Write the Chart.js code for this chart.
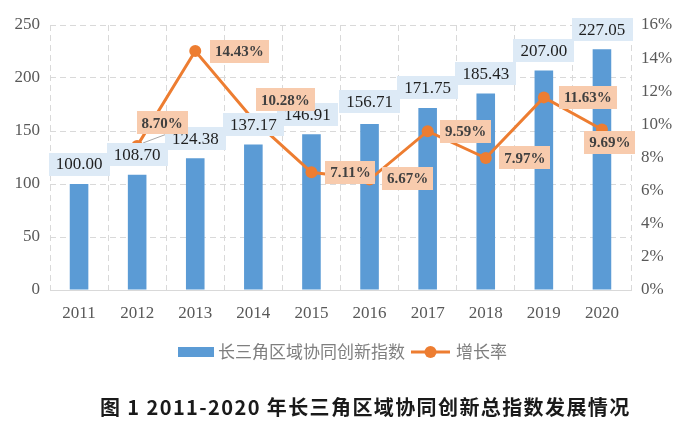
<!DOCTYPE html>
<html><head><meta charset="utf-8">
<script src="https://cdn.jsdelivr.net/npm/chart.js@4.4.0/dist/chart.umd.min.js"></script>
<style>
html,body{margin:0;padding:0;background:#fff;}
#wrap{position:relative;width:700px;height:437px;overflow:hidden;}
#c{position:absolute;left:0;top:0;}
#title{position:absolute;left:100px;top:394px;font-family:"Noto Sans CJK SC";font-weight:bold;font-size:20px;letter-spacing:1.4px;color:#1a1a1a;white-space:pre;line-height:26px;}
</style></head><body>
<div id="wrap"><canvas id="c" width="700" height="437" style="width:700px;height:437px"></canvas><div id="title"></div></div>
<script>
// ---- data ----
const years = ['2011','2012','2013','2014','2015','2016','2017','2018','2019','2020'];
const indexValues = [100.00,108.70,124.38,137.17,146.91,156.71,171.75,185.43,207.00,227.05];
const growthRates = [null,8.70,14.43,10.28,7.11,6.67,9.59,7.97,11.63,9.69];
const leftTicks = [0,50,100,150,200,250];
const rightTicks = [0,2,4,6,8,10,12,14,16];
const seriesNames = ['长三角区域协同创新指数','增长率'];
const chartTitle = '图 1 2011-2020 年长三角区域协同创新总指数发展情况';

// ---- label layout (pixel nudges, not data) ----
const barLabelNudge = [[0,0],[0,0],[0,0],[0,0],[-4,0],[0,-2],[0,0],[0,0],[0,0],[0,0]];
const rateLabelNudge = [null,[25,-23],[44,0],[32,-20],[39,0],[38,-1],[38,0],[39,0],[44,0],[8,13]];

document.getElementById('title').textContent = chartTitle;

const BAR = '#5B9BD5', LINE = '#ED7D31';
const SERIF = '"Liberation Serif", "Times New Roman", serif';

function box(ctx, text, cx, cy, padX, h, fill, font, color) {
  ctx.font = font;
  const w = ctx.measureText(text).width + padX * 2;
  ctx.fillStyle = fill;
  ctx.fillRect(Math.round(cx - w / 2), Math.round(cy - h / 2), Math.round(w), h);
  ctx.fillStyle = color;
  ctx.textAlign = 'center';
  ctx.textBaseline = 'middle';
  ctx.fillText(text, cx, cy + 1);
}

const labelPlugin = {
  id: 'labels',
  afterDatasetsDraw(chart) {
    const ctx = chart.ctx;
    ctx.save();
    // leader line from the 2012 point to its label
    const lineMeta = chart.getDatasetMeta(0);
    const p12 = lineMeta.data[1];
    ctx.strokeStyle = '#a6a6a6'; ctx.lineWidth = 1;
    ctx.beginPath(); ctx.moveTo(p12.x + 6, p12.y - 3); ctx.lineTo(p12.x + 30, p12.y - 12); ctx.stroke();
    chart.getDatasetMeta(1).data.forEach((bar, i) => {
      const n = barLabelNudge[i];
      box(ctx, indexValues[i].toFixed(2), bar.x + n[0], bar.y - 20 + n[1], 7, 23, '#DDEAF6',
          '17px ' + SERIF, '#1f1f1f');
    });
    lineMeta.data.forEach((pt, i) => {
      if (growthRates[i] == null) return;
      const n = rateLabelNudge[i];
      box(ctx, growthRates[i].toFixed(2) + '%', pt.x + n[0], pt.y + n[1], 5, 23, '#F8CBAD',
          'bold 15px ' + SERIF, '#404040');
    });
    ctx.restore();
  },
  afterDraw(chart) {
    // legend
    const ctx = chart.ctx;
    ctx.save();
    const y = 352;
    ctx.font = '17px "Noto Sans CJK SC"';
    ctx.textBaseline = 'middle';
    ctx.textAlign = 'left';
    const w1 = ctx.measureText(seriesNames[0]).width;
    const w2 = ctx.measureText(seriesNames[1]).width;
    const total = 36 + 4 + w1 + 6 + 39 + 6 + w2;
    let x = 342.5 - total / 2;
    ctx.fillStyle = BAR;
    ctx.fillRect(x, y - 5, 36, 10);
    x += 40;
    ctx.fillStyle = '#7f7f7f';
    ctx.fillText(seriesNames[0], x, y);
    x += w1 + 6;
    ctx.strokeStyle = LINE; ctx.lineWidth = 3;
    ctx.beginPath(); ctx.moveTo(x, y); ctx.lineTo(x + 39, y); ctx.stroke();
    ctx.fillStyle = LINE;
    ctx.beginPath(); ctx.arc(x + 19.5, y, 6, 0, Math.PI * 2); ctx.fill();
    x += 45;
    ctx.fillStyle = '#7f7f7f';
    ctx.fillText(seriesNames[1], x, y);
    ctx.restore();
  }
};

new Chart(document.getElementById('c'), {
  data: {
    labels: years,
    datasets: [
      { type: 'line', label: seriesNames[1], data: growthRates, yAxisID: 'y1',
        borderColor: LINE, backgroundColor: LINE, borderWidth: 3,
        pointRadius: 6, pointHoverRadius: 6, pointBackgroundColor: LINE, pointBorderWidth: 0,
        tension: 0, spanGaps: false, order: 1 },
      { type: 'bar', label: seriesNames[0], data: indexValues, yAxisID: 'y',
        backgroundColor: BAR, categoryPercentage: 1, barPercentage: 0.32, order: 2 }
    ]
  },
  options: {
    responsive: false,
    devicePixelRatio: 1,
    animation: false,
    layout: { padding: { top: 25, left: 0, right: 0, bottom: 103 } },
    plugins: { legend: { display: false }, tooltip: { enabled: false }, title: { display: false } },
    scales: {
      x: {
        offset: true,
        grid: { offset: true, color: '#d9d9d9', lineWidth: 1, drawTicks: false },
        border: { display: true, color: '#d9d9d9', width: 1, dash: [6, 4] },
        ticks: { color: '#595959', font: { family: SERIF, size: 17 }, padding: 13, maxRotation: 0 },
        afterFit: s => { s.height = 44; }
      },
      y: {
        position: 'left', min: 0, max: 250,
        afterBuildTicks: s => { s.ticks = leftTicks.map(v => ({ value: v })); },
        grid: { color: '#d9d9d9', lineWidth: 1, drawTicks: false },
        border: { display: false, dash: [6, 4] },
        ticks: { color: '#595959', font: { family: SERIF, size: 17 }, padding: 10 },
        afterFit: s => { s.width = 50; }
      },
      y1: {
        position: 'right', min: 0, max: 16,
        afterBuildTicks: s => { s.ticks = rightTicks.map(v => ({ value: v })); },
        grid: { drawOnChartArea: false, drawTicks: false },
        border: { display: false },
        ticks: { color: '#595959', font: { family: SERIF, size: 17 }, padding: 10, callback: v => v + '%' },
        afterFit: s => { s.width = 69; }
      }
    }
  },
  plugins: [labelPlugin]
});
</script>
</body></html>
